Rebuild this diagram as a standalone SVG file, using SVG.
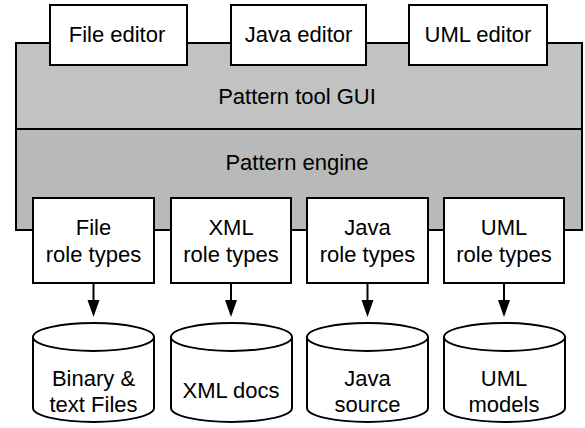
<svg xmlns="http://www.w3.org/2000/svg" width="585" height="428" viewBox="0 0 585 428">
  <defs>
    <style>
      .box { fill: #ffffff; stroke: #000000; stroke-width: 2; }
      .layer-gui { fill: #c2c2c2; }
      .layer-engine { fill: #b9b9b9; }
      .frame { fill: none; stroke: #000000; stroke-width: 2; }
      .label { font-family: "Liberation Sans", Arial, sans-serif; font-size: 22px; fill: #000000; text-anchor: middle; }
      .edge { stroke: #000000; stroke-width: 2; fill: none; }
      .head { fill: #000000; }
    </style>
    <!-- database cylinder, 121 wide, origin at its top-left corner -->
    <g id="cyl">
      <path class="box" d="M0,16 A60.5,14 0 0 1 121,16 L121,87 A60.5,14 0 0 1 0,87 Z"/>
      <path class="edge" d="M0,16 A60.5,14 0 0 0 121,16"/>
    </g>
  </defs>

  <!-- platform: GUI layer above engine layer -->
  <g id="platform">
    <rect class="layer-gui" x="16" y="43" width="566" height="86"/>
    <rect class="layer-engine" x="16" y="129" width="566" height="101"/>
    <rect class="frame" x="16" y="43" width="566" height="187"/>
    <line class="edge" x1="16" y1="129" x2="582" y2="129"/>
    <text class="label" x="297" y="104">Pattern tool GUI</text>
    <text class="label" x="297" y="170">Pattern engine</text>
  </g>

  <!-- editors -->
  <g id="file-editor">
    <rect class="box" x="50" y="5" width="137" height="60"/>
    <text class="label" x="117" y="42">File editor</text>
  </g>
  <g id="java-editor">
    <rect class="box" x="231" y="5" width="135" height="60"/>
    <text class="label" x="298.5" y="42">Java editor</text>
  </g>
  <g id="uml-editor">
    <rect class="box" x="409" y="5" width="138" height="60"/>
    <text class="label" x="478" y="42">UML editor</text>
  </g>

  <!-- role type plug-ins -->
  <g id="file-roles">
    <rect class="box" x="33" y="198" width="121" height="85"/>
    <text class="label" x="93.5" y="235">File</text>
    <text class="label" x="93.5" y="261.5">role types</text>
  </g>
  <g id="xml-roles">
    <rect class="box" x="171" y="198" width="120" height="85"/>
    <text class="label" x="231" y="235">XML</text>
    <text class="label" x="231" y="261.5">role types</text>
  </g>
  <g id="java-roles">
    <rect class="box" x="307" y="198" width="121" height="85"/>
    <text class="label" x="367.5" y="235">Java</text>
    <text class="label" x="367.5" y="261.5">role types</text>
  </g>
  <g id="uml-roles">
    <rect class="box" x="444" y="198" width="120" height="85"/>
    <text class="label" x="504" y="235">UML</text>
    <text class="label" x="504" y="261.5">role types</text>
  </g>

  <!-- artefact stores -->
  <g id="file-store">
    <use href="#cyl" x="33" y="321"/>
    <text class="label" x="93.5" y="386">Binary &amp;</text>
    <text class="label" x="93.5" y="411.5">text Files</text>
  </g>
  <g id="xml-store">
    <use href="#cyl" x="171" y="321"/>
    <text class="label" x="231" y="398">XML docs</text>
  </g>
  <g id="java-store">
    <use href="#cyl" x="307" y="321"/>
    <text class="label" x="367.5" y="386">Java</text>
    <text class="label" x="367.5" y="411.5">source</text>
  </g>
  <g id="uml-store">
    <use href="#cyl" x="444" y="321"/>
    <text class="label" x="504" y="386">UML</text>
    <text class="label" x="504" y="411.5">models</text>
  </g>

  <!-- connectors -->
  <g id="connectors">
    <line class="edge" x1="93.5" y1="283" x2="93.5" y2="302"/>
    <polygon class="head" points="87.5,300 99.5,300 93.5,317"/>
    <line class="edge" x1="231" y1="283" x2="231" y2="302"/>
    <polygon class="head" points="225,300 237,300 231,317"/>
    <line class="edge" x1="367.5" y1="283" x2="367.5" y2="302"/>
    <polygon class="head" points="361.5,300 373.5,300 367.5,317"/>
    <line class="edge" x1="504" y1="283" x2="504" y2="302"/>
    <polygon class="head" points="498,300 510,300 504,317"/>
  </g>
</svg>
